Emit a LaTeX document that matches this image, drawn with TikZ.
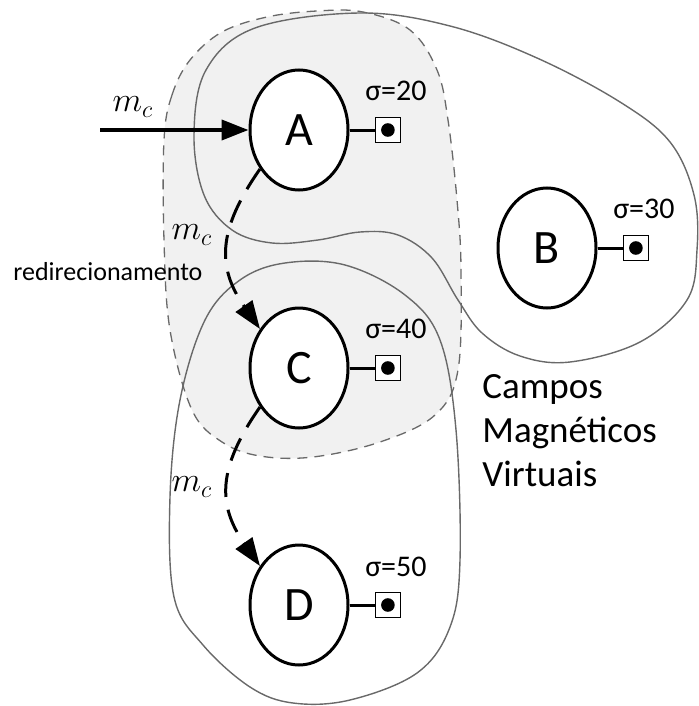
\documentclass[tikz,border=0pt]{standalone}
\usepackage{fontspec}
\setmainfont{Carlito}
\usepackage{tikz}
\usetikzlibrary{positioning,arrows.meta,shapes}
\definecolor{zonefill}{RGB}{241,241,241}
\definecolor{zoneline}{RGB}{105,105,105}

\begin{document}
\begin{tikzpicture}[x=0.5pt,y=-0.5pt,
    station/.style={ellipse,draw,line width=1.5pt,fill=white,minimum width=49pt,minimum height=60pt,inner sep=0pt,font=\fontsize{24}{24}\selectfont},
    gnd/.style={draw,line width=0.9pt,fill=white,minimum size=12.5pt,inner sep=0pt,path picture={\fill[black] (path picture bounding box.center) circle (3.4pt);}},
    sig/.style={inner sep=0pt,font=\fontsize{15}{15}\selectfont},
    mc/.style={inner sep=0pt,font=\fontsize{17}{17}\selectfont},
    flow/.style={line width=1.5pt,dash pattern=on 12pt off 6.5pt,-{Triangle[length=14pt,width=10pt]}},
    zone/.style={zoneline,line width=0.7pt}]
  \useasboundingbox (0,0) rectangle (698,706);
  \path[fill=zonefill,draw=zoneline,line width=0.65pt,dash pattern=on 5pt off 3.5pt]
    plot[smooth cycle,tension=0.6] coordinates {(164,140) (172,95) (190,60) (222,32) (267,17) (317,11) (363,12) (410,30) (437,70) (448,120) (457,200) (461,270) (458,370) (435,415) (380,442) (313,457) (260,456) (222,442) (192,410) (170,330) (164,240)};
  \draw[zone] plot[smooth cycle,tension=0.6] coordinates {(360,13) (450,26) (537,58) (620,102) (670,142) (694,195) (697,250) (687,300) (640,342) (570,362) (520,356) (482,333) (458,300) (432,258) (398,235) (360,232) (318,240) (272,243) (232,230) (204,195) (194,135) (206,70) (255,28)};
  \draw[zone] plot[smooth cycle,tension=0.6] coordinates {(285,263) (345,265) (405,295) (440,340) (456,430) (460,560) (450,627) (417,673) (350,700) (293,703) (250,687) (203,645) (174,597) (170,497) (180,400) (205,320) (240,280)};

  \node[station] (A) at (299,130) {A};
  \node[station] (B) at (547,248) {B};
  \node[station] (C) at (299,368) {C};
  \node[station] (D) at (299,605) {D};

  \node[gnd,right=12.5pt of A] (gA) {};
  \node[gnd,right=12.5pt of B] (gB) {};
  \node[gnd,right=12.5pt of C] (gC) {};
  \node[gnd,right=12.5pt of D] (gD) {};
  \draw[line width=1.5pt] (A) -- (gA);
  \draw[line width=1.5pt] (B) -- (gB);
  \draw[line width=1.5pt] (C) -- (gC);
  \draw[line width=1.5pt] (D) -- (gD);
  \node[sig,above=7.5pt of gA,xshift=4pt] (sA) {σ=20};
  \node[sig,above=7.5pt of gB,xshift=4pt] (sB) {σ=30};
  \node[sig,above=7.5pt of gC,xshift=4pt] (sC) {σ=40};
  \node[sig,above=7.5pt of gD,xshift=4pt] (sD) {σ=50};

  \coordinate (in) at (100,130);
  \draw[line width=2pt,-{Triangle[length=13.5pt,width=10pt]}] (in) -- (A);
  \draw[flow] (A.-135) to[out=-125,in=125,looseness=1.2] (C.135);
  \draw[flow] (C.-135) to[out=-125,in=125,looseness=1.2] (D.135);

  \node[mc] (m1) at (133,107) {$m_c$};
  \node[mc] (m2) at (192,235) {$m_c$};
  \node[mc] (m3) at (192,487) {$m_c$};
  \node[anchor=base west,inner sep=0pt,font=\fontsize{13}{13}\selectfont] (redir) at (13,280) {redirecionamento};
  \node[anchor=north west,inner sep=0pt,align=left,font=\fontsize{18.5}{22}\selectfont] (campos) at (482,374) {Campos\\Magnéticos\\Virtuais};
\end{tikzpicture}
\end{document}
